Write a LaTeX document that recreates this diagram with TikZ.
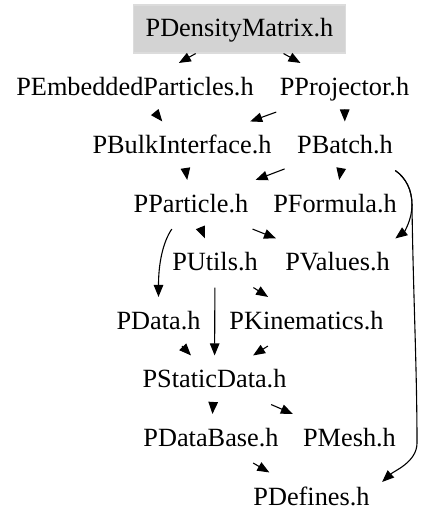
\documentclass[tikz,border=0pt]{standalone}
\usepackage{fontspec}
\setmainfont{Liberation Serif}
\usepackage{xcolor}
\usetikzlibrary{arrows.meta}
\definecolor{boxgray}{HTML}{D3D3D3}
\definecolor{boxedge}{HTML}{DCDCDC}

\begin{document}
\begin{tikzpicture}[>={Triangle[length=12bp, width=9.5bp]}, x=10bp, y=10bp, line width=1.1bp,
		file/.style={inner xsep=12bp, minimum height=48bp, text height=19bp, text depth=3bp, font=\fontsize{26.3bp}{30bp}\selectfont}]
		\useasboundingbox (0, 0) rectangle (42.8, 52.8);
		\node [file, fill=boxgray, draw=boxedge] (1) at (23.95, 49.9) {PDensityMatrix.h};
		\node [file] (2) at (13.5, 44.05) {PEmbeddedParticles.h};
		\node [file] (3) at (34.45, 44.05) {PProjector.h};
		\node [file] (4) at (18.2, 38.2) {PBulkInterface.h};
		\node [file] (5) at (34.5, 38.2) {PBatch.h};
		\node [file] (6) at (19.1, 32.35) {PParticle.h};
		\node [file] (7) at (33.5, 32.35) {PFormula.h};
		\node [file] (8) at (21.5, 26.5) {PUtils.h};
		\node [file] (9) at (33.75, 26.5) {PValues.h};
		\node [file] (10) at (15.85, 20.65) {PData.h};
		\node [file] (11) at (30.65, 20.65) {PKinematics.h};
		\node [file] (12) at (21.45, 14.8) {PStaticData.h};
		\node [file] (13) at (21.1, 8.95) {PDataBase.h};
		\node [file] (14) at (34.95, 8.95) {PMesh.h};
		\node [file] (15) at (31.15, 3.1) {PDefines.h};
		\draw [->] (1) to (2);
		\draw [->] (1) to (3);
		\draw [->] (2) to (4);
		\draw [->] (3) to (4);
		\draw [->] (3) to (5);
		\draw [->] (4) to (6);
		\draw [->] (5) to (6);
		\draw [->] (5) to (7);
		\draw [->] (5.-26) .. controls (40.6, 35.0) and (41.2, 33.8) .. (41.2, 32.3) .. controls (41.2, 30.8) and (40.4, 29.6) .. (9.23);
		\draw [->] (5.-26) .. controls (40.6, 35.0) and (41.2, 33.8) .. (41.2, 32.3) .. controls (41.3, 24) and (41.7, 16) .. (41.7, 8.5) .. controls (41.7, 6.6) and (39.4, 5.7) .. (15.12);
		\draw [->] (6) to (8);
		\draw [->] (6) to (9);
		\draw [->] (6.-128) .. controls (16.3, 28.6) and (15.85, 26.5) .. (10.north);
		\draw [->] (8) to (11);
		\draw [->] (8) to (12);
		\draw [->] (10) to (12);
		\draw [->] (11) to (12);
		\draw [->] (12) to (13);
		\draw [->] (12) to (14);
		\draw [->] (13) to (15);
    \end{tikzpicture}
\end{document}
